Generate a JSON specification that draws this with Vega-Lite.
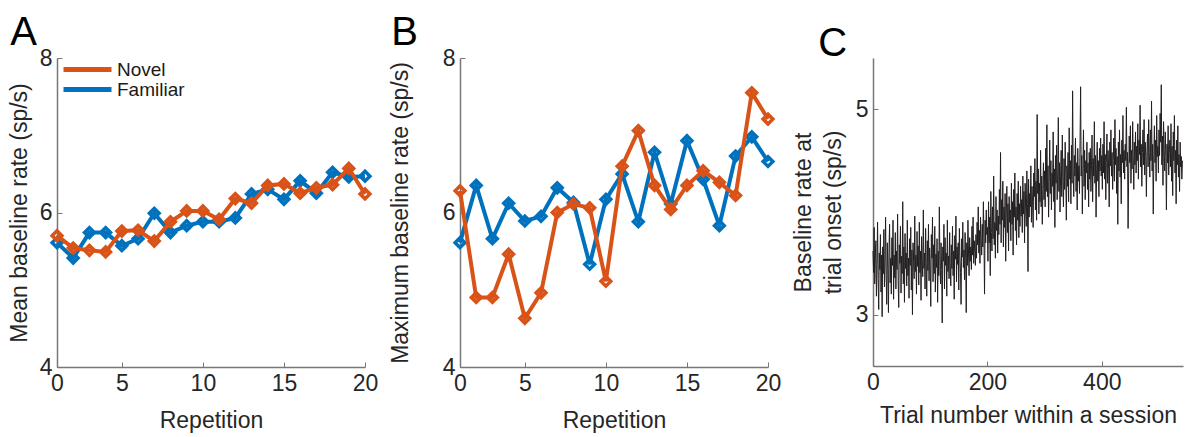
{
  "$schema": "https://vega.github.io/schema/vega-lite/v6.json",
  "padding": {"left": 8, "top": 13, "right": 2, "bottom": 4},
  "background": "white",
  "spacing": 11,
  "resolve": {"legend": {"color": "independent"}},
  "config": {
    "view": {"stroke": null},
    "font": "Liberation Sans",
    "title": {"font": "Liberation Sans", "fontWeight": "normal", "fontSize": 40, "color": "#000000", "anchor": "start", "frame": "bounds"},
    "axis": {
      "labelFont": "Liberation Sans", "titleFont": "Liberation Sans",
      "labelFontSize": 23, "titleFontSize": 23, "titleFontWeight": "normal",
      "labelColor": "#262626", "titleColor": "#262626",
      "domainColor": "#777777", "tickColor": "#777777", "domainWidth": 1.5,
      "grid": false, "tickSize": -5, "labelPadding": 10, "labelFlush": false, "labelOverlap": false
    },
    "legend": {"labelFont": "Liberation Sans"}
  },
  "datasets": {
    "ab": [
      {"rep": 1, "cond": "Familiar", "mean": 5.61, "max": 5.61},
      {"rep": 2, "cond": "Familiar", "mean": 5.41, "max": 6.35},
      {"rep": 3, "cond": "Familiar", "mean": 5.74, "max": 5.66},
      {"rep": 4, "cond": "Familiar", "mean": 5.74, "max": 6.12},
      {"rep": 5, "cond": "Familiar", "mean": 5.57, "max": 5.89},
      {"rep": 6, "cond": "Familiar", "mean": 5.66, "max": 5.95},
      {"rep": 7, "cond": "Familiar", "mean": 5.99, "max": 6.32},
      {"rep": 8, "cond": "Familiar", "mean": 5.74, "max": 6.13},
      {"rep": 9, "cond": "Familiar", "mean": 5.83, "max": 5.33},
      {"rep": 10, "cond": "Familiar", "mean": 5.88, "max": 6.17},
      {"rep": 11, "cond": "Familiar", "mean": 5.88, "max": 6.50},
      {"rep": 12, "cond": "Familiar", "mean": 5.93, "max": 5.88},
      {"rep": 13, "cond": "Familiar", "mean": 6.24, "max": 6.78},
      {"rep": 14, "cond": "Familiar", "mean": 6.30, "max": 6.11},
      {"rep": 15, "cond": "Familiar", "mean": 6.17, "max": 6.93},
      {"rep": 16, "cond": "Familiar", "mean": 6.41, "max": 6.43},
      {"rep": 17, "cond": "Familiar", "mean": 6.25, "max": 5.83},
      {"rep": 18, "cond": "Familiar", "mean": 6.52, "max": 6.73},
      {"rep": 19, "cond": "Familiar", "mean": 6.46, "max": 6.98},
      {"rep": 20, "cond": "Familiar", "mean": 6.47, "max": 6.66},
      {"rep": 1, "cond": "Novel", "mean": 5.70, "max": 6.28},
      {"rep": 2, "cond": "Novel", "mean": 5.54, "max": 4.90},
      {"rep": 3, "cond": "Novel", "mean": 5.51, "max": 4.90},
      {"rep": 4, "cond": "Novel", "mean": 5.49, "max": 5.46},
      {"rep": 5, "cond": "Novel", "mean": 5.76, "max": 4.63},
      {"rep": 6, "cond": "Novel", "mean": 5.77, "max": 4.96},
      {"rep": 7, "cond": "Novel", "mean": 5.63, "max": 6.00},
      {"rep": 8, "cond": "Novel", "mean": 5.88, "max": 6.11},
      {"rep": 9, "cond": "Novel", "mean": 6.02, "max": 6.06},
      {"rep": 10, "cond": "Novel", "mean": 6.02, "max": 5.11},
      {"rep": 11, "cond": "Novel", "mean": 5.91, "max": 6.60},
      {"rep": 12, "cond": "Novel", "mean": 6.18, "max": 7.06},
      {"rep": 13, "cond": "Novel", "mean": 6.12, "max": 6.35},
      {"rep": 14, "cond": "Novel", "mean": 6.35, "max": 6.04},
      {"rep": 15, "cond": "Novel", "mean": 6.37, "max": 6.35},
      {"rep": 16, "cond": "Novel", "mean": 6.25, "max": 6.54},
      {"rep": 17, "cond": "Novel", "mean": 6.32, "max": 6.39},
      {"rep": 18, "cond": "Novel", "mean": 6.36, "max": 6.22},
      {"rep": 19, "cond": "Novel", "mean": 6.57, "max": 7.55},
      {"rep": 20, "cond": "Novel", "mean": 6.24, "max": 7.21}
    ],
    "trials": [
      {"t":0,"v":3.62},{"t":1,"v":3.41},{"t":2,"v":3.85},{"t":3,"v":3.30},{"t":4,"v":3.55},{"t":5,"v":3.72},{"t":6,"v":3.18},{"t":7,"v":3.49},{"t":8,"v":3.90},{"t":9,"v":3.35},
      {"t":10,"v":3.05},{"t":11,"v":3.60},{"t":12,"v":3.44},{"t":13,"v":3.78},{"t":14,"v":3.22},{"t":15,"v":3.58},{"t":16,"v":2.98},{"t":17,"v":3.66},{"t":18,"v":3.40},{"t":19,"v":3.83},
      {"t":20,"v":3.27},{"t":21,"v":3.52},{"t":22,"v":3.95},{"t":23,"v":3.38},{"t":24,"v":3.10},{"t":25,"v":3.70},{"t":26,"v":3.46},{"t":27,"v":3.02},{"t":28,"v":3.64},{"t":29,"v":3.88},
      {"t":30,"v":3.31},{"t":31,"v":3.55},{"t":32,"v":3.20},{"t":33,"v":3.75},{"t":34,"v":3.48},{"t":35,"v":3.92},{"t":36,"v":3.15},{"t":37,"v":3.58},{"t":38,"v":3.36},{"t":39,"v":3.80},
      {"t":40,"v":3.25},{"t":41,"v":3.62},{"t":42,"v":3.44},{"t":43,"v":3.98},{"t":44,"v":3.33},{"t":45,"v":3.07},{"t":46,"v":3.68},{"t":47,"v":3.50},{"t":48,"v":3.86},{"t":49,"v":3.21},
      {"t":50,"v":3.57},{"t":51,"v":3.40},{"t":52,"v":4.10},{"t":53,"v":3.30},{"t":54,"v":3.66},{"t":55,"v":3.12},{"t":56,"v":3.79},{"t":57,"v":3.45},{"t":58,"v":3.60},{"t":59,"v":3.28},
      {"t":60,"v":3.92},{"t":61,"v":3.38},{"t":62,"v":3.55},{"t":63,"v":3.16},{"t":64,"v":3.74},{"t":65,"v":3.48},{"t":66,"v":3.85},{"t":67,"v":3.24},{"t":68,"v":3.63},{"t":69,"v":3.00},
      {"t":70,"v":3.70},{"t":71,"v":3.52},{"t":72,"v":3.35},{"t":73,"v":3.96},{"t":74,"v":3.42},{"t":75,"v":3.58},{"t":76,"v":3.20},{"t":77,"v":3.81},{"t":78,"v":3.47},{"t":79,"v":3.67},
      {"t":80,"v":3.29},{"t":81,"v":3.90},{"t":82,"v":3.41},{"t":83,"v":3.62},{"t":84,"v":3.14},{"t":85,"v":3.76},{"t":86,"v":3.53},{"t":87,"v":3.37},{"t":88,"v":4.02},{"t":89,"v":3.45},
      {"t":90,"v":3.60},{"t":91,"v":3.25},{"t":92,"v":3.84},{"t":93,"v":3.50},{"t":94,"v":3.18},{"t":95,"v":3.72},{"t":96,"v":3.43},{"t":97,"v":3.88},{"t":98,"v":3.33},{"t":99,"v":3.65},
      {"t":100,"v":3.48},{"t":101,"v":3.08},{"t":102,"v":3.78},{"t":103,"v":3.55},{"t":104,"v":3.95},{"t":105,"v":3.32},{"t":106,"v":3.68},{"t":107,"v":3.40},{"t":108,"v":3.86},{"t":109,"v":3.22},
      {"t":110,"v":3.59},{"t":111,"v":3.46},{"t":112,"v":3.74},{"t":113,"v":3.12},{"t":114,"v":3.62},{"t":115,"v":3.38},{"t":116,"v":4.05},{"t":117,"v":3.51},{"t":118,"v":3.30},{"t":119,"v":3.70},
      {"t":120,"v":3.44},{"t":121,"v":2.92},{"t":122,"v":3.66},{"t":123,"v":3.52},{"t":124,"v":3.88},{"t":125,"v":3.25},{"t":126,"v":3.75},{"t":127,"v":3.48},{"t":128,"v":3.60},{"t":129,"v":3.18},
      {"t":130,"v":3.92},{"t":131,"v":3.42},{"t":132,"v":3.57},{"t":133,"v":3.35},{"t":134,"v":3.80},{"t":135,"v":3.50},{"t":136,"v":3.28},{"t":137,"v":3.68},{"t":138,"v":3.45},{"t":139,"v":3.86},
      {"t":140,"v":3.38},{"t":141,"v":3.62},{"t":142,"v":3.15},{"t":143,"v":3.77},{"t":144,"v":3.54},{"t":145,"v":3.96},{"t":146,"v":3.32},{"t":147,"v":3.66},{"t":148,"v":3.49},{"t":149,"v":3.70},
      {"t":150,"v":3.24},{"t":151,"v":3.84},{"t":152,"v":3.58},{"t":153,"v":3.41},{"t":154,"v":3.10},{"t":155,"v":3.74},{"t":156,"v":3.56},{"t":157,"v":3.90},{"t":158,"v":3.46},{"t":159,"v":3.63},
      {"t":160,"v":3.34},{"t":161,"v":3.80},{"t":162,"v":3.55},{"t":163,"v":3.02},{"t":164,"v":3.70},{"t":165,"v":3.48},{"t":166,"v":3.92},{"t":167,"v":3.60},{"t":168,"v":3.38},{"t":169,"v":3.75},
      {"t":170,"v":3.52},{"t":171,"v":3.66},{"t":172,"v":3.44},{"t":173,"v":3.86},{"t":174,"v":3.58},{"t":175,"v":3.95},{"t":176,"v":3.50},{"t":177,"v":3.72},{"t":178,"v":3.62},{"t":179,"v":3.48},
      {"t":180,"v":3.78},{"t":181,"v":3.55},{"t":182,"v":3.90},{"t":183,"v":3.68},{"t":184,"v":4.05},{"t":185,"v":3.60},{"t":186,"v":3.82},{"t":187,"v":3.50},{"t":188,"v":3.95},{"t":189,"v":3.72},
      {"t":190,"v":3.58},{"t":191,"v":3.88},{"t":192,"v":3.66},{"t":193,"v":4.10},{"t":194,"v":3.75},{"t":195,"v":3.20},{"t":196,"v":3.92},{"t":197,"v":3.70},{"t":198,"v":4.02},{"t":199,"v":3.78},
      {"t":200,"v":3.85},{"t":201,"v":3.52},{"t":202,"v":4.10},{"t":203,"v":3.70},{"t":204,"v":3.95},{"t":205,"v":3.38},{"t":206,"v":4.20},{"t":207,"v":3.80},{"t":208,"v":3.62},{"t":209,"v":4.05},
      {"t":210,"v":3.74},{"t":211,"v":4.35},{"t":212,"v":3.68},{"t":213,"v":3.90},{"t":214,"v":3.55},{"t":215,"v":4.15},{"t":216,"v":3.82},{"t":217,"v":4.02},{"t":218,"v":3.60},{"t":219,"v":3.96},
      {"t":220,"v":3.78},{"t":221,"v":4.22},{"t":222,"v":3.88},{"t":223,"v":4.58},{"t":224,"v":3.70},{"t":225,"v":4.12},{"t":226,"v":3.92},{"t":227,"v":4.30},{"t":228,"v":3.66},{"t":229,"v":4.05},
      {"t":230,"v":3.85},{"t":231,"v":4.18},{"t":232,"v":3.52},{"t":233,"v":3.98},{"t":234,"v":4.25},{"t":235,"v":3.80},{"t":236,"v":4.08},{"t":237,"v":3.62},{"t":238,"v":4.15},{"t":239,"v":3.90},
      {"t":240,"v":4.02},{"t":241,"v":3.72},{"t":242,"v":4.28},{"t":243,"v":3.88},{"t":244,"v":4.10},{"t":245,"v":3.58},{"t":246,"v":4.22},{"t":247,"v":3.95},{"t":248,"v":4.38},{"t":249,"v":3.82},
      {"t":250,"v":4.05},{"t":251,"v":3.68},{"t":252,"v":4.18},{"t":253,"v":3.92},{"t":254,"v":4.30},{"t":255,"v":3.75},{"t":256,"v":4.08},{"t":257,"v":3.86},{"t":258,"v":4.25},{"t":259,"v":3.96},
      {"t":260,"v":4.12},{"t":261,"v":3.80},{"t":262,"v":4.35},{"t":263,"v":3.98},{"t":264,"v":4.20},{"t":265,"v":3.70},{"t":266,"v":4.28},{"t":267,"v":4.02},{"t":268,"v":3.86},{"t":269,"v":4.40},
      {"t":270,"v":4.08},{"t":271,"v":3.42},{"t":272,"v":4.32},{"t":273,"v":3.95},{"t":274,"v":4.18},{"t":275,"v":4.05},{"t":276,"v":4.45},{"t":277,"v":3.90},{"t":278,"v":4.25},{"t":279,"v":4.10},
      {"t":280,"v":3.85},{"t":281,"v":4.38},{"t":282,"v":4.15},{"t":283,"v":4.52},{"t":284,"v":4.02},{"t":285,"v":4.30},{"t":286,"v":3.92},{"t":287,"v":4.95},{"t":288,"v":4.18},{"t":289,"v":4.42},
      {"t":290,"v":3.98},{"t":291,"v":4.28},{"t":292,"v":4.10},{"t":293,"v":4.60},{"t":294,"v":4.05},{"t":295,"v":4.35},{"t":296,"v":3.88},{"t":297,"v":4.22},{"t":298,"v":4.48},{"t":299,"v":4.12},
      {"t":300,"v":4.40},{"t":301,"v":4.05},{"t":302,"v":4.62},{"t":303,"v":4.20},{"t":304,"v":4.85},{"t":305,"v":4.15},{"t":306,"v":4.45},{"t":307,"v":3.95},{"t":308,"v":4.30},{"t":309,"v":4.70},
      {"t":310,"v":4.18},{"t":311,"v":4.50},{"t":312,"v":4.02},{"t":313,"v":4.38},{"t":314,"v":4.25},{"t":315,"v":4.78},{"t":316,"v":4.10},{"t":317,"v":4.42},{"t":318,"v":3.85},{"t":319,"v":4.55},
      {"t":320,"v":4.28},{"t":321,"v":4.65},{"t":322,"v":4.12},{"t":323,"v":4.40},{"t":324,"v":4.92},{"t":325,"v":4.20},{"t":326,"v":4.48},{"t":327,"v":4.00},{"t":328,"v":4.35},{"t":329,"v":4.60},
      {"t":330,"v":4.15},{"t":331,"v":4.75},{"t":332,"v":4.30},{"t":333,"v":4.05},{"t":334,"v":4.52},{"t":335,"v":4.22},{"t":336,"v":4.68},{"t":337,"v":4.38},{"t":338,"v":3.92},{"t":339,"v":4.45},
      {"t":340,"v":4.25},{"t":341,"v":4.58},{"t":342,"v":4.10},{"t":343,"v":4.82},{"t":344,"v":4.32},{"t":345,"v":4.50},{"t":346,"v":4.08},{"t":347,"v":4.65},{"t":348,"v":4.28},{"t":349,"v":5.18},
      {"t":350,"v":4.40},{"t":351,"v":4.15},{"t":352,"v":4.55},{"t":353,"v":4.35},{"t":354,"v":4.72},{"t":355,"v":4.20},{"t":356,"v":4.48},{"t":357,"v":4.02},{"t":358,"v":4.62},{"t":359,"v":4.30},
      {"t":360,"v":4.45},{"t":361,"v":4.18},{"t":362,"v":4.70},{"t":363,"v":5.22},{"t":364,"v":4.35},{"t":365,"v":4.55},{"t":366,"v":3.98},{"t":367,"v":4.42},{"t":368,"v":4.80},{"t":369,"v":4.25},
      {"t":370,"v":4.60},{"t":371,"v":4.12},{"t":372,"v":4.50},{"t":373,"v":4.38},{"t":374,"v":4.68},{"t":375,"v":4.22},{"t":376,"v":4.48},{"t":377,"v":4.05},{"t":378,"v":4.58},{"t":379,"v":4.32},
      {"t":380,"v":4.62},{"t":381,"v":4.20},{"t":382,"v":4.45},{"t":383,"v":4.75},{"t":384,"v":4.10},{"t":385,"v":4.52},{"t":386,"v":4.35},{"t":387,"v":4.88},{"t":388,"v":4.28},{"t":389,"v":4.55},
      {"t":390,"v":3.95},{"t":391,"v":4.42},{"t":392,"v":4.68},{"t":393,"v":4.30},{"t":394,"v":4.50},{"t":395,"v":4.15},{"t":396,"v":4.62},{"t":397,"v":4.40},{"t":398,"v":4.72},{"t":399,"v":4.35},
      {"t":400,"v":4.55},{"t":401,"v":4.22},{"t":402,"v":4.66},{"t":403,"v":4.38},{"t":404,"v":4.88},{"t":405,"v":4.32},{"t":406,"v":4.56},{"t":407,"v":4.12},{"t":408,"v":4.48},{"t":409,"v":4.76},
      {"t":410,"v":4.28},{"t":411,"v":4.60},{"t":412,"v":4.42},{"t":413,"v":4.05},{"t":414,"v":4.68},{"t":415,"v":4.45},{"t":416,"v":4.80},{"t":417,"v":4.35},{"t":418,"v":4.58},{"t":419,"v":4.22},
      {"t":420,"v":4.50},{"t":421,"v":4.72},{"t":422,"v":4.30},{"t":423,"v":4.90},{"t":424,"v":4.46},{"t":425,"v":4.62},{"t":426,"v":4.18},{"t":427,"v":4.54},{"t":428,"v":3.88},{"t":429,"v":4.68},
      {"t":430,"v":4.40},{"t":431,"v":4.80},{"t":432,"v":4.34},{"t":433,"v":4.56},{"t":434,"v":4.08},{"t":435,"v":4.70},{"t":436,"v":4.48},{"t":437,"v":4.94},{"t":438,"v":4.38},{"t":439,"v":4.60},
      {"t":440,"v":4.32},{"t":441,"v":4.66},{"t":442,"v":4.50},{"t":443,"v":5.02},{"t":444,"v":4.44},{"t":445,"v":4.58},{"t":446,"v":3.84},{"t":447,"v":4.36},{"t":448,"v":4.74},{"t":449,"v":4.48},
      {"t":450,"v":4.84},{"t":451,"v":4.28},{"t":452,"v":4.60},{"t":453,"v":4.42},{"t":454,"v":4.88},{"t":455,"v":4.54},{"t":456,"v":4.22},{"t":457,"v":4.68},{"t":458,"v":4.46},{"t":459,"v":4.78},
      {"t":460,"v":4.38},{"t":461,"v":4.64},{"t":462,"v":4.50},{"t":463,"v":4.86},{"t":464,"v":4.32},{"t":465,"v":4.70},{"t":466,"v":4.56},{"t":467,"v":5.04},{"t":468,"v":4.44},{"t":469,"v":4.66},
      {"t":470,"v":4.25},{"t":471,"v":4.58},{"t":472,"v":4.80},{"t":473,"v":4.46},{"t":474,"v":4.90},{"t":475,"v":4.36},{"t":476,"v":4.68},{"t":477,"v":4.54},{"t":478,"v":4.15},{"t":479,"v":4.60},
      {"t":480,"v":4.76},{"t":481,"v":4.44},{"t":482,"v":4.90},{"t":483,"v":4.58},{"t":484,"v":4.34},{"t":485,"v":4.80},{"t":486,"v":4.50},{"t":487,"v":5.08},{"t":488,"v":4.40},{"t":489,"v":4.66},
      {"t":490,"v":3.98},{"t":491,"v":4.56},{"t":492,"v":4.84},{"t":493,"v":4.48},{"t":494,"v":4.70},{"t":495,"v":4.30},{"t":496,"v":4.94},{"t":497,"v":4.54},{"t":498,"v":4.64},{"t":499,"v":4.38},
      {"t":500,"v":4.80},{"t":501,"v":4.55},{"t":502,"v":4.96},{"t":503,"v":4.68},{"t":504,"v":5.24},{"t":505,"v":4.46},{"t":506,"v":4.74},{"t":507,"v":4.26},{"t":508,"v":4.88},{"t":509,"v":4.60},
      {"t":510,"v":4.40},{"t":511,"v":4.78},{"t":512,"v":4.54},{"t":513,"v":4.02},{"t":514,"v":4.66},{"t":515,"v":4.48},{"t":516,"v":4.84},{"t":517,"v":4.36},{"t":518,"v":4.58},{"t":519,"v":4.70},
      {"t":520,"v":4.44},{"t":521,"v":4.86},{"t":522,"v":4.30},{"t":523,"v":4.64},{"t":524,"v":4.16},{"t":525,"v":4.78},{"t":526,"v":4.50},{"t":527,"v":4.94},{"t":528,"v":4.38},{"t":529,"v":4.60},
      {"t":530,"v":4.08},{"t":531,"v":4.70},{"t":532,"v":4.46},{"t":533,"v":4.84},{"t":534,"v":4.34},{"t":535,"v":4.56},{"t":536,"v":4.20},{"t":537,"v":4.68},{"t":538,"v":4.44},{"t":539,"v":4.54},
      {"t":540,"v":4.32},{"t":541,"v":4.50}
    ]
  },
  "hconcat": [
    {
      "width": 308, "height": 309,
      "title": {"text": "A", "dx": 2, "offset": -6},
      "data": {"name": "ab"},
      "encoding": {
        "x": {"field": "rep", "type": "quantitative", "scale": {"domain": [1, 20], "nice": false},
              "axis": {"values": [1, 5, 10, 15, 20], "labelExpr": "datum.value == 1 ? '0' : datum.label", "title": "Repetition", "titlePadding": 14}},
        "y": {"field": "mean", "type": "quantitative", "scale": {"domain": [4, 8], "nice": false},
              "axis": {"values": [4, 6, 8], "title": "Mean baseline rate (sp/s)", "titlePadding": 8}}
      },
      "layer": [
        {"transform": [{"filter": "datum.cond == 'Familiar'"}],
         "mark": {"type": "line", "strokeWidth": 4},
         "encoding": {"color": {"field": "cond", "type": "nominal", "scale": {"domain": ["Novel", "Familiar"], "range": ["#D95319", "#0072BD"]},
           "legend": {"orient": "none", "legendX": 4, "legendY": 2, "title": null, "symbolType": "stroke", "symbolSize": 2304, "symbolStrokeWidth": 5, "clipHeight": 19, "labelFontSize": 19, "labelColor": "#1a1a1a", "labelOffset": 3, "rowPadding": 0, "padding": 0}}}},
        {"transform": [{"filter": "datum.cond == 'Familiar'"}],
         "mark": {"type": "point", "shape": "diamond", "filled": false, "strokeWidth": 3.5, "size": 95, "opacity": 1, "color": "#0072BD"}},
        {"transform": [{"filter": "datum.cond == 'Novel'"}],
         "mark": {"type": "line", "strokeWidth": 4},
         "encoding": {"color": {"field": "cond", "type": "nominal",
           "legend": {"orient": "none", "legendX": 4, "legendY": 2, "title": null, "symbolType": "stroke", "symbolSize": 2304, "symbolStrokeWidth": 5, "clipHeight": 19, "labelFontSize": 19, "labelColor": "#1a1a1a", "labelOffset": 3, "rowPadding": 0, "padding": 0}}}},
        {"transform": [{"filter": "datum.cond == 'Novel'"}],
         "mark": {"type": "point", "shape": "diamond", "filled": false, "strokeWidth": 3.5, "size": 95, "opacity": 1, "color": "#D95319"}}
      ]
    },
    {
      "width": 308, "height": 309,
      "title": {"text": "B", "dx": 2, "offset": -6},
      "data": {"name": "ab"},
      "encoding": {
        "x": {"field": "rep", "type": "quantitative", "scale": {"domain": [1, 20], "nice": false},
              "axis": {"values": [1, 5, 10, 15, 20], "labelExpr": "datum.value == 1 ? '0' : datum.label", "title": "Repetition", "titlePadding": 14}},
        "y": {"field": "max", "type": "quantitative", "scale": {"domain": [4, 8], "nice": false},
              "axis": {"values": [4, 6, 8], "title": "Maximum baseline rate (sp/s)", "titlePadding": 30}}
      },
      "layer": [
        {"transform": [{"filter": "datum.cond == 'Familiar'"}],
         "mark": {"type": "line", "strokeWidth": 4, "color": "#0072BD"}},
        {"transform": [{"filter": "datum.cond == 'Familiar'"}],
         "mark": {"type": "point", "shape": "diamond", "filled": false, "strokeWidth": 3.5, "size": 95, "opacity": 1, "color": "#0072BD"}},
        {"transform": [{"filter": "datum.cond == 'Novel'"}],
         "mark": {"type": "line", "strokeWidth": 4, "color": "#D95319"}},
        {"transform": [{"filter": "datum.cond == 'Novel'"}],
         "mark": {"type": "point", "shape": "diamond", "filled": false, "strokeWidth": 3.5, "size": 95, "opacity": 1, "color": "#D95319"}}
      ]
    },
    {
      "width": 310, "height": 308,
      "title": {"text": "C", "dx": 26, "offset": -6},
      "data": {"name": "trials"},
      "mark": {"type": "line", "strokeWidth": 1, "color": "#231f20"},
      "encoding": {
        "x": {"field": "t", "type": "quantitative", "scale": {"domain": [0, 542], "nice": false},
              "axis": {"values": [0, 200, 400], "title": "Trial number within a session", "titlePadding": 10}},
        "y": {"field": "v", "type": "quantitative", "scale": {"domain": [2.5, 5.5], "nice": false},
              "axis": {"values": [3, 5], "title": ["Baseline rate at", "trial onset (sp/s)"], "titleLineHeight": 30, "titlePadding": 10}}
      }
    }
  ]
}
